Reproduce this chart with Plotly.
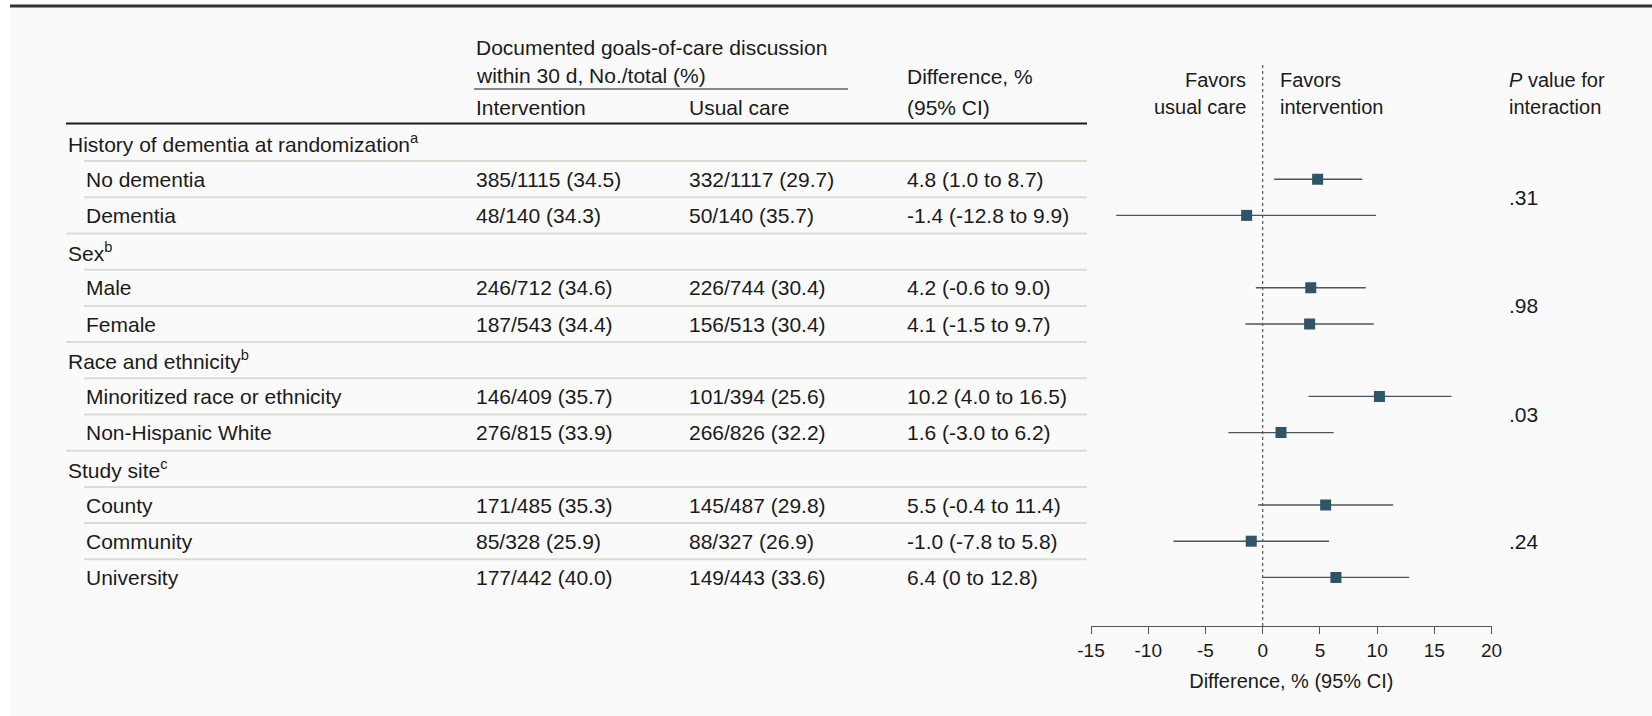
import plotly.graph_objects as go

# ---- data -------------------------------------------------------------
labels = [
    "History of dementia at randomization<sup>a</sup>",
    "No dementia", "Dementia",
    "Sex<sup>b</sup>",
    "Male", "Female",
    "Race and ethnicity<sup>b</sup>",
    "Minoritized race or ethnicity", "Non-Hispanic White",
    "Study site<sup>c</sup>",
    "County", "Community", "University",
]
# None marks a group heading row
int_events = [None, 385, 48, None, 246, 187, None, 146, 276, None, 171, 85, 177]
int_totals = [None, 1115, 140, None, 712, 543, None, 409, 815, None, 485, 328, 442]
uc_events = [None, 332, 50, None, 226, 156, None, 101, 266, None, 145, 88, 149]
uc_totals = [None, 1117, 140, None, 744, 513, None, 394, 826, None, 487, 327, 443]
diff_est = [None, 4.8, -1.4, None, 4.2, 4.1, None, 10.2, 1.6, None, 5.5, -1.0, 6.4]
diff_lo = [None, 1.0, -12.8, None, -0.6, -1.5, None, 4.0, -3.0, None, -0.4, -7.8, 0.0]
diff_hi = [None, 8.7, 9.9, None, 9.0, 9.7, None, 16.5, 6.2, None, 11.4, 5.8, 12.8]
p_values = [".31", ".98", ".03", ".24"]
p_rows = [(1, 2), (4, 5), (7, 8), (10, 12)]
axis_ticks = [-15, -10, -5, 0, 5, 10, 15, 20]

# ---- canvas geometry ----------------------------------------------------
W, H = 1652, 716
FONT = "Liberation Sans"
TXT = "#1a1a1a"
FS = 21
ROW0, ROWH = 143, 36.2          # pixel centre of first row, row pitch


def px(x):
    return x / W


def py(y):
    return 1 - y / H


def row_of(ypix):
    return (ypix - ROW0) / ROWH


def fmt(v):
    return "0" if v == 0 else f"{v:.1f}"


n = len(labels)
rows = list(range(n))
is_head = [e is None for e in int_events]

fig = go.Figure()

# forest plot markers with CI whiskers
f_rows = [r for r in rows if not is_head[r]]
est = [diff_est[r] for r in f_rows]
fig.add_trace(go.Scatter(
    x=est, y=f_rows, mode="markers",
    marker=dict(symbol="square", size=11, color="#2f5566", line=dict(width=0)),
    error_x=dict(type="data", symmetric=False,
                 array=[diff_hi[r] - diff_est[r] for r in f_rows],
                 arrayminus=[diff_est[r] - diff_lo[r] for r in f_rows],
                 color="#4d5559", thickness=1.4, width=0),
    hoverinfo="skip", showlegend=False,
))

ann = []
shapes = []


def text(x, y, s, anchor="left", yref="paper", size=FS):
    ann.append(dict(x=x, y=y, xref="paper", yref=yref, text=s, showarrow=False,
                    xanchor=anchor, yanchor="middle",
                    font=dict(family=FONT, size=size, color=TXT)))


# panel background and top rule
shapes.append(dict(type="rect", xref="paper", yref="paper", x0=px(10), x1=1,
                   y0=0, y1=py(5), fillcolor="#fafafa", line=dict(width=0),
                   layer="below"))
shapes.append(dict(type="line", xref="paper", yref="paper", x0=px(10), x1=1,
                   y0=py(6), y1=py(6), line=dict(color="#333333", width=3)))

# column headings
text(px(474), py(47), "Documented goals-of-care discussion")
text(px(474), py(75), "within 30 d, No./total (%)")
shapes.append(dict(type="line", xref="paper", yref="paper", x0=px(474), x1=px(848),
                   y0=py(89), y1=py(89), line=dict(color="#8a8a8a", width=2)))
text(px(474), py(107), "Intervention")
text(px(687), py(107), "Usual care")
text(px(905), py(77), "Difference, %")
text(px(905), py(107), "(95% CI)")
text(px(1248), py(80), "Favors", anchor="right", size=FS - 1)
text(px(1248), py(107), "usual care", anchor="right", size=FS - 1)
text(px(1278), py(80), "Favors", size=FS - 1)
text(px(1278), py(107), "intervention", size=FS - 1)
text(px(1507), py(80), "<i>P</i> value for", size=FS - 1)
text(px(1507), py(107), "interaction", size=FS - 1)
shapes.append(dict(type="line", xref="paper", yref="paper", x0=px(66), x1=px(1087),
                   y0=py(123.5), y1=py(123.5), line=dict(color="#1a1a1a", width=2)))

# table body
for r in rows:
    if is_head[r]:
        text(px(66), r, labels[r], yref="y")
    else:
        text(px(84), r, labels[r], yref="y")
        ie, it = int_events[r], int_totals[r]
        ue, ut = uc_events[r], uc_totals[r]
        text(px(474), r, f"{ie}/{it} ({100 * ie / it:.1f})", yref="y")
        text(px(687), r, f"{ue}/{ut} ({100 * ue / ut:.1f})", yref="y")
        text(px(905), r,
             f"{fmt(diff_est[r])} ({fmt(diff_lo[r])} to {fmt(diff_hi[r])})",
             yref="y")
    if r > 0:
        x_start = 66 if is_head[r] else 84
        shapes.append(dict(type="line", xref="paper", yref="y",
                           x0=px(x_start), x1=px(1087), y0=r - 0.5, y1=r - 0.5,
                           line=dict(color="#dcdcd4", width=2)))

# interaction P values, centred on each subgroup block
for p, (a, b) in zip(p_values, p_rows):
    text(px(1507), (a + b) / 2, p, yref="y")

# null-effect reference line
shapes.append(dict(type="line", xref="x", yref="paper", x0=0, x1=0,
                   y0=py(65), y1=py(626),
                   line=dict(color="#555555", width=1.2, dash="dot")))

fig.update_layout(
    width=W, height=H,
    margin=dict(l=0, r=0, t=0, b=0),
    paper_bgcolor="#ffffff", plot_bgcolor="rgba(0,0,0,0)",
    annotations=ann, shapes=shapes,
    xaxis=dict(domain=[1091 / W, 1491.6 / W], range=[-15, 20],
               anchor="free", position=py(626),
               tickvals=axis_ticks, ticktext=[str(t) for t in axis_ticks],
               ticks="outside", ticklen=7, tickwidth=1.2,
               tickcolor="#555555", showline=True, linecolor="#555555",
               linewidth=1.4, showgrid=False, zeroline=False,
               tickfont=dict(family=FONT, size=19, color=TXT),
               title=dict(text="Difference, % (95% CI)", standoff=13,
                          font=dict(family=FONT, size=FS - 1, color=TXT)),
               automargin=False, fixedrange=True),
    yaxis=dict(domain=[0, 1], range=[row_of(H), row_of(0)], visible=False,
               fixedrange=True),
    font=dict(family=FONT, color=TXT),
)

fig.write_html("out.html")
